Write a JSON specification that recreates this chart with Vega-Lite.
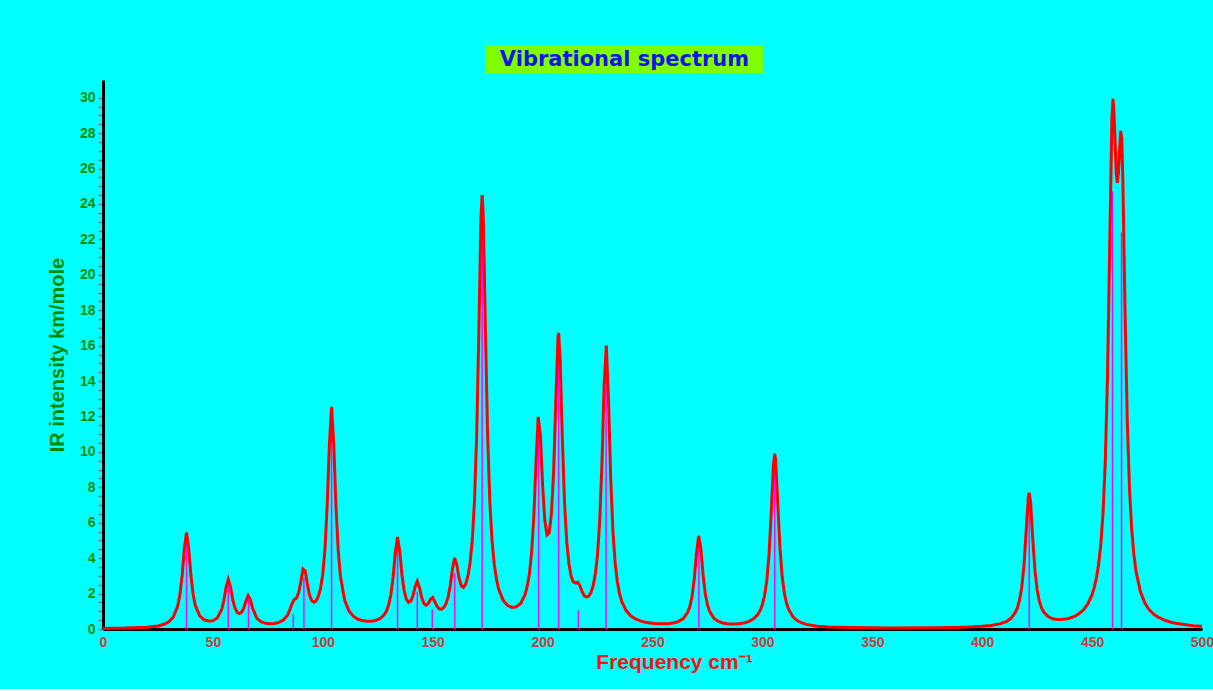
{
  "$schema": "https://vega.github.io/schema/vega-lite/v6.json",
  "background": "#00ffff",
  "padding": {"left": 47, "top": 45, "right": 0, "bottom": 17},
  "spacing": 7,
  "center": false,
  "config": {"font": "Liberation Sans"},
  "datasets": {
    "curve": [
      {"f":0,"v":0.03},{"f":10,"v":0.05},{"f":20,"v":0.1},{"f":25,"v":0.17},{"f":28,"v":0.28},{"f":30,"v":0.41},{"f":32,"v":0.68},{"f":34,"v":1.29},{"f":35,"v":1.93},{"f":36,"v":3.0},{"f":37,"v":4.53},{"f":38,"v":5.45},{"f":39,"v":4.54},{"f":40,"v":3.02},{"f":41,"v":1.96},{"f":42,"v":1.33},{"f":44,"v":0.74},{"f":46,"v":0.52},{"f":48,"v":0.45},{"f":50,"v":0.47},{"f":52,"v":0.62},{"f":54,"v":1.1},{"f":55,"v":1.61},{"f":56,"v":2.35},{"f":57,"v":2.8},{"f":58,"v":2.38},{"f":59,"v":1.67},{"f":60,"v":1.2},{"f":61,"v":0.95},{"f":62,"v":0.87},{"f":63,"v":0.94},{"f":64,"v":1.16},{"f":65,"v":1.55},{"f":66,"v":1.89},{"f":67,"v":1.68},{"f":68,"v":1.2},{"f":70,"v":0.6},{"f":72,"v":0.4},{"f":74,"v":0.32},{"f":76,"v":0.3},{"f":78,"v":0.31},{"f":80,"v":0.37},{"f":82,"v":0.49},{"f":84,"v":0.79},{"f":85,"v":1.08},{"f":86,"v":1.43},{"f":87,"v":1.66},{"f":88,"v":1.74},{"f":89,"v":2.04},{"f":90,"v":2.66},{"f":91,"v":3.38},{"f":92,"v":3.27},{"f":93,"v":2.52},{"f":94,"v":1.9},{"f":95,"v":1.59},{"f":96,"v":1.51},{"f":97,"v":1.6},{"f":98,"v":1.85},{"f":99,"v":2.31},{"f":100,"v":3.11},{"f":101,"v":4.53},{"f":102,"v":6.97},{"f":103,"v":10.43},{"f":104,"v":12.54},{"f":105,"v":10.4},{"f":106,"v":6.92},{"f":107,"v":4.45},{"f":108,"v":2.98},{"f":110,"v":1.6},{"f":112,"v":1.0},{"f":114,"v":0.71},{"f":116,"v":0.55},{"f":118,"v":0.48},{"f":120,"v":0.44},{"f":122,"v":0.44},{"f":124,"v":0.48},{"f":126,"v":0.58},{"f":128,"v":0.82},{"f":129,"v":1.03},{"f":130,"v":1.38},{"f":131,"v":1.96},{"f":132,"v":2.94},{"f":133,"v":4.34},{"f":134,"v":5.2},{"f":135,"v":4.4},{"f":136,"v":3.08},{"f":137,"v":2.17},{"f":138,"v":1.69},{"f":139,"v":1.51},{"f":140,"v":1.57},{"f":141,"v":1.86},{"f":142,"v":2.38},{"f":143,"v":2.7},{"f":144,"v":2.34},{"f":145,"v":1.78},{"f":146,"v":1.45},{"f":147,"v":1.34},{"f":148,"v":1.44},{"f":149,"v":1.68},{"f":150,"v":1.78},{"f":151,"v":1.53},{"f":152,"v":1.27},{"f":153,"v":1.13},{"f":154,"v":1.12},{"f":155,"v":1.21},{"f":156,"v":1.41},{"f":157,"v":1.8},{"f":158,"v":2.46},{"f":159,"v":3.4},{"f":160,"v":4.02},{"f":161,"v":3.6},{"f":162,"v":2.87},{"f":163,"v":2.44},{"f":164,"v":2.35},{"f":165,"v":2.53},{"f":166,"v":2.97},{"f":167,"v":3.73},{"f":168,"v":5.0},{"f":169,"v":7.2},{"f":170,"v":10.88},{"f":171,"v":16.85},{"f":172,"v":23.34},{"f":172.5,"v":24.5},{"f":173,"v":23.35},{"f":174,"v":16.85},{"f":175,"v":10.86},{"f":176,"v":7.15},{"f":177,"v":4.98},{"f":178,"v":3.66},{"f":179,"v":2.82},{"f":180,"v":2.26},{"f":182,"v":1.63},{"f":184,"v":1.34},{"f":186,"v":1.22},{"f":188,"v":1.25},{"f":190,"v":1.44},{"f":192,"v":1.93},{"f":193,"v":2.4},{"f":194,"v":3.1},{"f":195,"v":4.32},{"f":196,"v":6.34},{"f":197,"v":9.37},{"f":198,"v":11.98},{"f":199,"v":10.93},{"f":200,"v":8.12},{"f":201,"v":6.14},{"f":202,"v":5.31},{"f":203,"v":5.43},{"f":204,"v":6.48},{"f":205,"v":8.84},{"f":206,"v":12.78},{"f":207,"v":16.45},{"f":207.3,"v":16.72},{"f":208,"v":15.2},{"f":209,"v":10.67},{"f":210,"v":7.07},{"f":211,"v":4.89},{"f":212,"v":3.67},{"f":213,"v":2.97},{"f":214,"v":2.65},{"f":215,"v":2.6},{"f":216,"v":2.64},{"f":217,"v":2.44},{"f":218,"v":2.1},{"f":219,"v":1.87},{"f":220,"v":1.8},{"f":221,"v":1.86},{"f":222,"v":2.06},{"f":223,"v":2.45},{"f":224,"v":3.11},{"f":225,"v":4.21},{"f":226,"v":6.12},{"f":227,"v":9.35},{"f":228,"v":13.79},{"f":229,"v":16.0},{"f":230,"v":12.86},{"f":231,"v":8.48},{"f":232,"v":5.5},{"f":233,"v":3.73},{"f":234,"v":2.67},{"f":235,"v":2.0},{"f":236,"v":1.56},{"f":238,"v":1.04},{"f":240,"v":0.76},{"f":242,"v":0.58},{"f":245,"v":0.43},{"f":248,"v":0.35},{"f":251,"v":0.31},{"f":254,"v":0.29},{"f":257,"v":0.3},{"f":260,"v":0.35},{"f":262,"v":0.43},{"f":264,"v":0.59},{"f":266,"v":0.94},{"f":267,"v":1.27},{"f":268,"v":1.85},{"f":269,"v":2.81},{"f":270,"v":4.24},{"f":271,"v":5.26},{"f":272,"v":4.53},{"f":273,"v":3.07},{"f":274,"v":2.0},{"f":275,"v":1.36},{"f":276,"v":0.99},{"f":278,"v":0.6},{"f":280,"v":0.43},{"f":282,"v":0.34},{"f":284,"v":0.3},{"f":286,"v":0.28},{"f":288,"v":0.28},{"f":290,"v":0.31},{"f":292,"v":0.35},{"f":294,"v":0.43},{"f":296,"v":0.57},{"f":298,"v":0.83},{"f":299,"v":1.05},{"f":300,"v":1.38},{"f":301,"v":1.89},{"f":302,"v":2.74},{"f":303,"v":4.17},{"f":304,"v":6.5},{"f":305,"v":9.23},{"f":305.6,"v":9.9},{"f":306,"v":9.58},{"f":307,"v":7.06},{"f":308,"v":4.55},{"f":309,"v":2.95},{"f":310,"v":2.02},{"f":311,"v":1.45},{"f":312,"v":1.09},{"f":314,"v":0.67},{"f":316,"v":0.46},{"f":318,"v":0.34},{"f":320,"v":0.26},{"f":325,"v":0.16},{"f":330,"v":0.11},{"f":340,"v":0.08},{"f":350,"v":0.065},{"f":360,"v":0.06},{"f":370,"v":0.065},{"f":380,"v":0.076},{"f":390,"v":0.095},{"f":395,"v":0.12},{"f":400,"v":0.15},{"f":404,"v":0.2},{"f":408,"v":0.29},{"f":411,"v":0.42},{"f":413,"v":0.59},{"f":415,"v":0.92},{"f":416,"v":1.19},{"f":417,"v":1.64},{"f":418,"v":2.36},{"f":419,"v":3.58},{"f":420,"v":5.51},{"f":421,"v":7.45},{"f":421.4,"v":7.69},{"f":422,"v":7.17},{"f":423,"v":5.09},{"f":424,"v":3.31},{"f":425,"v":2.22},{"f":426,"v":1.57},{"f":427,"v":1.19},{"f":428,"v":0.96},{"f":430,"v":0.7},{"f":432,"v":0.58},{"f":434,"v":0.54},{"f":436,"v":0.53},{"f":438,"v":0.56},{"f":440,"v":0.62},{"f":442,"v":0.71},{"f":444,"v":0.86},{"f":446,"v":1.07},{"f":448,"v":1.4},{"f":450,"v":1.94},{"f":451,"v":2.35},{"f":452,"v":2.9},{"f":453,"v":3.68},{"f":454,"v":4.83},{"f":455,"v":6.6},{"f":456,"v":9.45},{"f":457,"v":14.21},{"f":458,"v":21.51},{"f":459,"v":28.77},{"f":459.5,"v":29.94},{"f":460,"v":29.07},{"f":461,"v":25.73},{"f":461.5,"v":25.19},{"f":462,"v":25.81},{"f":463,"v":28.13},{"f":463.5,"v":27.67},{"f":464,"v":25.3},{"f":465,"v":17.85},{"f":466,"v":11.75},{"f":467,"v":7.95},{"f":468,"v":5.65},{"f":469,"v":4.21},{"f":470,"v":3.24},{"f":472,"v":2.1},{"f":474,"v":1.46},{"f":476,"v":1.08},{"f":478,"v":0.84},{"f":480,"v":0.67},{"f":484,"v":0.45},{"f":488,"v":0.32},{"f":492,"v":0.25},{"f":496,"v":0.19},{"f":500,"v":0.15}
    ],
    "sticks": [
      {"f":38,"v":5.4},{"f":57,"v":2.6},{"f":66.2,"v":1.65},{"f":86.6,"v":0.85},{"f":91.4,"v":2.9},{"f":104,"v":12.4},{"f":134,"v":4.9},{"f":143,"v":2.1},{"f":149.8,"v":1.1},{"f":160,"v":3.15},{"f":172.5,"v":24.25},{"f":198.2,"v":10.9},{"f":207.3,"v":15.8},{"f":216.3,"v":1.05},{"f":228.9,"v":15.75},{"f":271.1,"v":5.15},{"f":305.6,"v":9.85},{"f":421.4,"v":7.55},{"f":459.3,"v":24.7},{"f":463.4,"v":22.4}
    ]
  },
  "vconcat": [
    {
      "hconcat": [
        {
          "width": 383,
          "height": 28,
          "view": {"stroke": null},
          "data": {"values": [{"t": ""}]},
          "mark": {"type": "text", "opacity": 0},
          "encoding": {"text": {"field": "t", "type": "nominal"}}
        },
        {
          "width": 277,
          "height": 28,
          "view": {"fill": "#80ff00", "stroke": null},
          "data": {"values": [{"t": "Vibrational spectrum"}]},
          "mark": {"type": "text", "font": "DejaVu Sans", "fontSize": 21, "fontWeight": "bold", "color": "#1414e6", "align": "center", "baseline": "middle", "dy": 1},
          "encoding": {"text": {"field": "t", "type": "nominal"}}
        }
      ],
      "spacing": 0
    },
    {
      "width": 1099,
      "height": 549,
      "view": {"stroke": null},
      "encoding": {
        "x": {
          "field": "f", "type": "quantitative",
          "scale": {"domain": [0, 500], "nice": false},
          "axis": {
            "values": [0, 50, 100, 150, 200, 250, 300, 350, 400, 450, 500],
            "title": "Frequency cm⁻¹",
            "titleColor": "#ff1010", "titleFont": "Liberation Sans", "titleFontSize": 21, "titleFontWeight": "bold",
            "titlePadding": 2, "titleX": 571, "titleAlign": "center",
            "labelColor": "#d03a3a", "labelFont": "Liberation Sans", "labelFontSize": 14, "labelFontWeight": "bold",
            "labelPadding": 6, "labelFlush": false, "labelOverlap": false,
            "ticks": false, "tickSize": 0,
            "domainColor": "#000000", "domainWidth": 3, "grid": false
          }
        },
        "y": {
          "field": "v", "type": "quantitative",
          "scale": {"domain": [0, 31], "nice": false},
          "axis": {
            "values": [0,0.5,1,1.5,2,2.5,3,3.5,4,4.5,5,5.5,6,6.5,7,7.5,8,8.5,9,9.5,10,10.5,11,11.5,12,12.5,13,13.5,14,14.5,15,15.5,16,16.5,17,17.5,18,18.5,19,19.5,20,20.5,21,21.5,22,22.5,23,23.5,24,24.5,25,25.5,26,26.5,27,27.5,28,28.5,29,29.5,30],
            "labelExpr": "datum.value % 2 === 0 ? format(datum.value, 'd') : ''",
            "labelOverlap": false, "labelFlush": false, "labelBound": false,
            "title": "IR intensity km/mole",
            "titleColor": "#008800", "titleFont": "Liberation Sans", "titleFontSize": 20, "titleFontWeight": "bold",
            "titlePadding": 12,
            "labelColor": "#008c00", "labelFont": "Liberation Sans", "labelFontSize": 14, "labelFontWeight": "bold",
            "labelPadding": 3,
            "ticks": true, "tickSize": 5, "tickColor": "#7a7a7a", "tickWidth": 1.5,
            "domainColor": "#000000", "domainWidth": 3, "grid": false
          }
        }
      },
      "layer": [
        {
          "data": {"name": "sticks"},
          "mark": {"type": "rule", "color": "#ff00ff", "strokeWidth": 1.5},
          "encoding": {"y2": {"datum": 0}}
        },
        {
          "data": {"name": "curve"},
          "mark": {"type": "line", "color": "#ff0000", "strokeWidth": 3}
        }
      ]
    }
  ]
}
